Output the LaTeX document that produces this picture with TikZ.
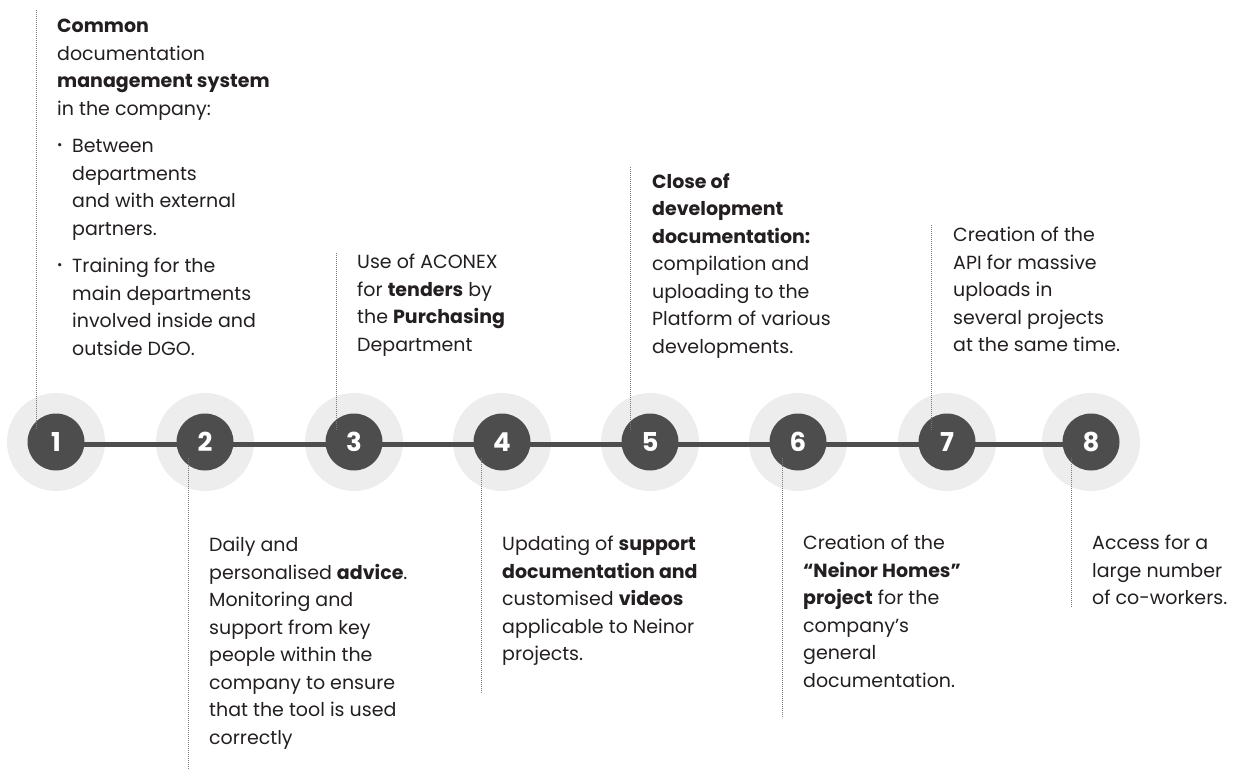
\documentclass[tikz,border=0pt]{standalone}
\usepackage{fontspec}
\setmainfont{Poppins}
\definecolor{halogray}{HTML}{ECEDEC}
\definecolor{badgegray}{HTML}{4D4D4D}
\definecolor{dotgray}{HTML}{7A7A7A}
\definecolor{inkc}{HTML}{231F20}
\newcommand{\dotitem}{\makebox[15pt][l]{\raisebox{3pt}{\fontsize{13}{13}\selectfont\textbullet}}}

\begin{document}
\begin{tikzpicture}[
  x=1pt,y=-1pt,
  font=\fontsize{19}{27.5}\selectfont,
  halo/.style={circle,fill=halogray,minimum size=98pt,inner sep=0pt},
  badge/.style={circle,fill=badgegray,minimum size=57pt,inner sep=0pt,text=white,font=\fontsize{26}{26}\selectfont\bfseries},
  track/.style={draw=badgegray,line width=5pt},
  leader/.style={draw=dotgray,line width=0.8pt,dash pattern=on 0.8pt off 1.2pt},
  note/.style={anchor=north west,align=left,inner sep=0pt,text=inkc}
]
\useasboundingbox (0,0) rectangle (1236,770);
\foreach \i/\x in {1/56,2/205,3/354,4/502,5/650,6/798,7/947,8/1091}
  \node[halo] (h\i) at (\x,442) {};
\draw[track] ([yshift=-2pt]h1.center) -- ([yshift=-2pt]h8.center);
\foreach \i/\x in {1/56,2/205,3/354,4/502,5/650,6/798,7/947,8/1091}
  \node[badge] (c\i) at (\x,442) {\i};
\foreach \i/\lx/\ya/\yb in {1/36/10/430,2/188/458/770,3/336/253/430,4/481/458/693,5/630/167/430,6/782/458/718,7/931/225/430,8/1071/458/607}{
  \coordinate (lt\i) at (\lx,\ya);
  \coordinate (lb\i) at (\lx,\yb);
  \draw[leader] (lt\i) -- (lb\i);
}

\node[note] (txt1) at (57,19) {\textbf{Common}\\documentation\\\textbf{management system}\\in the company:\\[10pt]
  \dotitem Between\\\hspace*{15pt}departments\\\hspace*{15pt}and with external\\\hspace*{15pt}partners.\\[10pt]
  \dotitem Training for the\\\hspace*{15pt}main departments\\\hspace*{15pt}involved inside and\\\hspace*{15pt}outside DGO.};
\node[note] (txt3) at (357,254) {Use of ACONEX\\for \textbf{tenders} by\\the \textbf{Purchasing}\\Department};
\node[note] (txt5) at (652,173) {\textbf{Close of}\\\textbf{development}\\\textbf{documentation:}\\compilation and\\uploading to the\\Platform of various\\developments.};
\node[note] (txt7) at (953,227) {Creation of the\\API for massive\\uploads in\\several projects\\at the same time.};
\node[note] (txt2) at (209,537) {Daily and\\personalised \textbf{advice}.\\Monitoring and\\support from key\\people within the\\company to ensure\\that the tool is used\\correctly};
\node[note] (txt4) at (502,536) {Updating of \textbf{support}\\\textbf{documentation and}\\customised \textbf{videos}\\applicable to Neinor\\projects.};
\node[note] (txt6) at (803,535) {Creation of the\\\textbf{“Neinor Homes”}\\\textbf{project} for the\\company’s\\general\\documentation.};
\node[note] (txt8) at (1092,535) {Access for a\\large number\\of co-workers.};
\end{tikzpicture}
\end{document}
